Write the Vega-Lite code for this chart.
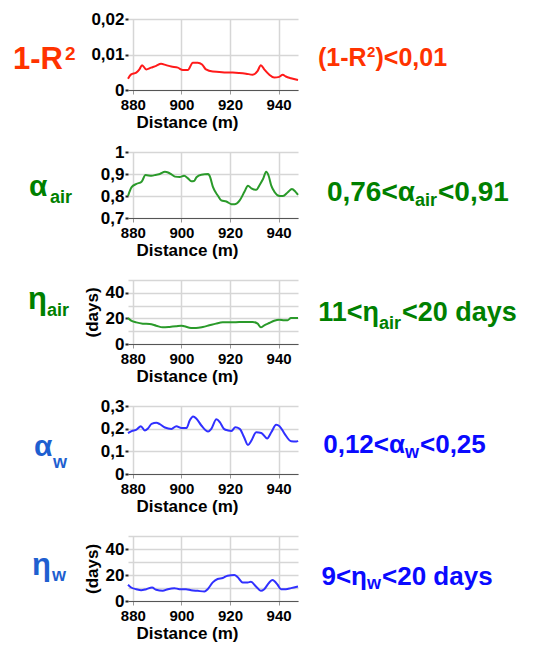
{
"$schema": "https://vega.github.io/schema/vega-lite/v6.json",
"padding": {"left": 13, "top": 10, "right": 5, "bottom": 3},
"background": "white",
"spacing": 62,
"bounds": "flush",
"datasets": {
"r2": [{"d":878,"v":0.0032},{"d":879.3,"v":0.0044},{"d":881.4,"v":0.0049},{"d":882.7,"v":0.0058},{"d":883.8,"v":0.007},{"d":885.5,"v":0.0058},{"d":887.5,"v":0.0063},{"d":889.6,"v":0.0068},{"d":891.6,"v":0.0074},{"d":893.7,"v":0.007},{"d":895.8,"v":0.0066},{"d":898.5,"v":0.0063},{"d":900.6,"v":0.0056},{"d":902.6,"v":0.0056},{"d":904.7,"v":0.0077},{"d":906.7,"v":0.0077},{"d":908.5,"v":0.0072},{"d":910.1,"v":0.0058},{"d":912.9,"v":0.0052},{"d":915.6,"v":0.0051},{"d":918.4,"v":0.0049},{"d":921.1,"v":0.0049},{"d":923.8,"v":0.0048},{"d":926.6,"v":0.0046},{"d":929.3,"v":0.0043},{"d":931.4,"v":0.0054},{"d":932.7,"v":0.007},{"d":934.1,"v":0.0058},{"d":936.2,"v":0.0043},{"d":938.2,"v":0.0035},{"d":940.3,"v":0.0037},{"d":941.7,"v":0.0043},{"d":943.0,"v":0.0038},{"d":945.1,"v":0.0033},{"d":948,"v":0.0028}],
"aair": [{"d":878,"v":0.80},{"d":879.5,"v":0.84},{"d":881.5,"v":0.855},{"d":883.6,"v":0.865},{"d":885.2,"v":0.895},{"d":887.7,"v":0.892},{"d":889.7,"v":0.897},{"d":891.1,"v":0.90},{"d":893.2,"v":0.91},{"d":894.5,"v":0.907},{"d":895.9,"v":0.898},{"d":897.3,"v":0.888},{"d":899.3,"v":0.886},{"d":901.1,"v":0.892},{"d":902.7,"v":0.88},{"d":904.1,"v":0.867},{"d":905.2,"v":0.868},{"d":906.2,"v":0.885},{"d":908.2,"v":0.897},{"d":911.0,"v":0.90},{"d":911.6,"v":0.892},{"d":913.0,"v":0.84},{"d":915.1,"v":0.80},{"d":916.4,"v":0.78},{"d":918.5,"v":0.775},{"d":920.6,"v":0.763},{"d":921.9,"v":0.762},{"d":924.0,"v":0.78},{"d":926.0,"v":0.82},{"d":927.4,"v":0.847},{"d":928.8,"v":0.835},{"d":930.8,"v":0.828},{"d":932.2,"v":0.85},{"d":933.6,"v":0.877},{"d":934.9,"v":0.91},{"d":935.9,"v":0.892},{"d":937.0,"v":0.847},{"d":938.4,"v":0.817},{"d":940.4,"v":0.80},{"d":941.8,"v":0.80},{"d":943.8,"v":0.817},{"d":945.5,"v":0.832},{"d":946.9,"v":0.82},{"d":948,"v":0.805}],
"nair": [{"d":878,"v":20.3},{"d":879.3,"v":18.2},{"d":881.4,"v":16.9},{"d":884.1,"v":15.9},{"d":886.9,"v":15.6},{"d":889.6,"v":14.3},{"d":892.3,"v":13},{"d":895.1,"v":13.3},{"d":897.8,"v":13.8},{"d":899.9,"v":14.3},{"d":901.2,"v":13.8},{"d":904.0,"v":12.5},{"d":906.0,"v":12.5},{"d":908.8,"v":13.3},{"d":911.5,"v":14.6},{"d":914.2,"v":15.9},{"d":917.0,"v":16.9},{"d":921.1,"v":16.9},{"d":923.8,"v":17.2},{"d":926.6,"v":17.2},{"d":929.3,"v":17.2},{"d":931.4,"v":15.9},{"d":932.7,"v":13},{"d":934.1,"v":14.6},{"d":936.2,"v":16.4},{"d":938.2,"v":18.2},{"d":940.3,"v":19},{"d":942.3,"v":18.5},{"d":943.7,"v":18.5},{"d":945.1,"v":20.3},{"d":948,"v":20.3}],
"aw": [{"d":878,"v":0.18},{"d":879.5,"v":0.189},{"d":881.5,"v":0.196},{"d":883.3,"v":0.211},{"d":884.9,"v":0.192},{"d":886.3,"v":0.202},{"d":887.7,"v":0.221},{"d":889.7,"v":0.226},{"d":891.1,"v":0.22},{"d":893.2,"v":0.205},{"d":895.9,"v":0.199},{"d":897.9,"v":0.211},{"d":900.0,"v":0.203},{"d":902.1,"v":0.203},{"d":903.4,"v":0.236},{"d":904.8,"v":0.254},{"d":906.2,"v":0.244},{"d":908.2,"v":0.214},{"d":911.0,"v":0.187},{"d":912.3,"v":0.199},{"d":914.4,"v":0.241},{"d":915.8,"v":0.229},{"d":917.5,"v":0.199},{"d":919.2,"v":0.192},{"d":920.6,"v":0.19},{"d":922.2,"v":0.206},{"d":924.0,"v":0.199},{"d":925.8,"v":0.162},{"d":927.4,"v":0.128},{"d":928.8,"v":0.147},{"d":930.8,"v":0.184},{"d":932.9,"v":0.181},{"d":935.3,"v":0.157},{"d":937.0,"v":0.184},{"d":939.0,"v":0.217},{"d":940.4,"v":0.211},{"d":942.5,"v":0.177},{"d":945.2,"v":0.144},{"d":947.3,"v":0.143},{"d":948,"v":0.147}],
"nw": [{"d":878,"v":12.5},{"d":879.3,"v":10.4},{"d":881.4,"v":9.1},{"d":883.4,"v":8.3},{"d":885.5,"v":9.1},{"d":887.9,"v":10.4},{"d":889.6,"v":8.6},{"d":892.3,"v":7.8},{"d":894.4,"v":9.1},{"d":897.1,"v":9.9},{"d":899.2,"v":9.1},{"d":901.9,"v":9.1},{"d":904.0,"v":8.3},{"d":906.7,"v":7.8},{"d":909.5,"v":7.3},{"d":910.8,"v":9.1},{"d":912.9,"v":14.3},{"d":914.9,"v":16.9},{"d":917.0,"v":17.7},{"d":919.0,"v":19.5},{"d":921.8,"v":20},{"d":923.2,"v":18.2},{"d":925.2,"v":14.3},{"d":927.3,"v":14.3},{"d":928.6,"v":14.8},{"d":930.7,"v":11.2},{"d":932.7,"v":7.8},{"d":934.1,"v":9.1},{"d":936.2,"v":14.3},{"d":937.5,"v":16.1},{"d":939.6,"v":12.5},{"d":941.0,"v":9.1},{"d":943.0,"v":9.1},{"d":945.1,"v":9.9},{"d":948,"v":11.2}]
},
"vconcat": [
{
"width": 170, "height": 71,
"layer": [
{"data": {"name": "r2"}, "mark": {"type": "line", "color": "#ff1a1a", "strokeWidth": 2, "interpolate": "monotone"},
 "encoding": {
  "x": {"field": "d", "type": "quantitative", "scale": {"domain": [878, 948], "nice": false, "zero": false}, "axis": {"values": [880, 900, 920, 940], "title": "Distance (m)"}},
  "y": {"field": "v", "type": "quantitative", "scale": {"domain": [0, 0.02], "nice": false}, "axis": {"values": [0, 0.01, 0.02], "title": null, "labelExpr": "replace(format(datum.value, '.2~f'), '.', ',')"}}
 }},
{"data": {"values": [{"t": "1-R"}]}, "mark": {"type": "text", "align": "left", "baseline": "alphabetic", "fontSize": 31, "dx": -200, "dy": 14.5, "color": "#ff3300"}, "encoding": {"text": {"field": "t"}}},
{"data": {"values": [{"t": "2"}]}, "mark": {"type": "text", "align": "left", "baseline": "alphabetic", "fontSize": 19, "dx": -148, "dy": 5, "color": "#ff3300"}, "encoding": {"text": {"field": "t"}}},
{"data": {"values": [{"t": "(1-R"}]}, "mark": {"type": "text", "align": "left", "baseline": "alphabetic", "fontSize": 25, "dx": 105, "dy": 11.5, "color": "#ff3300"}, "encoding": {"text": {"field": "t"}}},
{"data": {"values": [{"t": "2"}]}, "mark": {"type": "text", "align": "left", "baseline": "alphabetic", "fontSize": 15, "dx": 154, "dy": 2.5, "color": "#ff3300"}, "encoding": {"text": {"field": "t"}}},
{"data": {"values": [{"t": ")<0,01"}]}, "mark": {"type": "text", "align": "left", "baseline": "alphabetic", "fontSize": 25, "dx": 162.5, "dy": 11.5, "color": "#ff3300"}, "encoding": {"text": {"field": "t"}}}
]
},
{
"width": 170, "height": 66,
"layer": [
{"data": {"name": "aair"}, "mark": {"type": "line", "color": "#2a9a2a", "strokeWidth": 2, "interpolate": "monotone"},
 "encoding": {
  "x": {"field": "d", "type": "quantitative", "scale": {"domain": [878, 948], "nice": false, "zero": false}, "axis": {"values": [880, 900, 920, 940], "title": "Distance (m)"}},
  "y": {"field": "v", "type": "quantitative", "scale": {"domain": [0.7, 1], "nice": false, "zero": false}, "axis": {"values": [0.7, 0.8, 0.9, 1], "title": null, "labelExpr": "replace(format(datum.value, '.1~f'), '.', ',')"}}
 }},
{"data": {"values": [{"t": "α"}]}, "mark": {"type": "text", "align": "left", "baseline": "alphabetic", "fontSize": 30, "dx": -184, "dy": 11, "color": "#008000"}, "encoding": {"text": {"field": "t"}}},
{"data": {"values": [{"t": "air"}]}, "mark": {"type": "text", "align": "left", "baseline": "alphabetic", "fontSize": 18, "dx": -163, "dy": 18, "color": "#008000"}, "encoding": {"text": {"field": "t"}}},
{"data": {"values": [{"t": "0,76<α"}]}, "mark": {"type": "text", "align": "right", "baseline": "alphabetic", "fontSize": 28, "dx": 202, "dy": 16, "color": "#008000"}, "encoding": {"text": {"field": "t"}}},
{"data": {"values": [{"t": "air"}]}, "mark": {"type": "text", "align": "left", "baseline": "alphabetic", "fontSize": 18, "dx": 202, "dy": 21, "color": "#008000"}, "encoding": {"text": {"field": "t"}}},
{"data": {"values": [{"t": "<0,91"}]}, "mark": {"type": "text", "align": "left", "baseline": "alphabetic", "fontSize": 28, "dx": 225, "dy": 16, "color": "#008000"}, "encoding": {"text": {"field": "t"}}}
]
},
{
"width": 170, "height": 64,
"layer": [
{"data": {"name": "nair"}, "mark": {"type": "line", "color": "#2a9a2a", "strokeWidth": 2, "interpolate": "monotone"},
 "encoding": {
  "x": {"field": "d", "type": "quantitative", "scale": {"domain": [878, 948], "nice": false, "zero": false}, "axis": {"values": [880, 900, 920, 940], "title": "Distance (m)"}},
  "y": {"field": "v", "type": "quantitative", "scale": {"domain": [0, 50], "nice": false}, "axis": {"values": [0, 10, 20, 30, 40, 50], "title": "(days)", "titlePadding": 4, "labelExpr": "datum.value % 20 === 0 ? datum.label : ''", "tickOpacity": {"condition": {"test": "datum.value % 20 !== 0", "value": 0}, "value": 1}}}
 }},
{"data": {"values": [{"t": "η"}]}, "mark": {"type": "text", "align": "left", "baseline": "alphabetic", "fontSize": 31, "dx": -185, "dy": -3, "color": "#008000"}, "encoding": {"text": {"field": "t"}}},
{"data": {"values": [{"t": "air"}]}, "mark": {"type": "text", "align": "left", "baseline": "alphabetic", "fontSize": 18, "dx": -166, "dy": 4, "color": "#008000"}, "encoding": {"text": {"field": "t"}}},
{"data": {"values": [{"t": "11<η"}]}, "mark": {"type": "text", "align": "right", "baseline": "alphabetic", "fontSize": 27, "dx": 166, "dy": 9, "color": "#008000"}, "encoding": {"text": {"field": "t"}}},
{"data": {"values": [{"t": "air"}]}, "mark": {"type": "text", "align": "left", "baseline": "alphabetic", "fontSize": 18, "dx": 166, "dy": 17, "color": "#008000"}, "encoding": {"text": {"field": "t"}}},
{"data": {"values": [{"t": "<20 days"}]}, "mark": {"type": "text", "align": "left", "baseline": "alphabetic", "fontSize": 27, "dx": 189, "dy": 9, "color": "#008000"}, "encoding": {"text": {"field": "t"}}}
]
},
{
"width": 170, "height": 68,
"layer": [
{"data": {"name": "aw"}, "mark": {"type": "line", "color": "#3030ff", "strokeWidth": 2, "interpolate": "monotone"},
 "encoding": {
  "x": {"field": "d", "type": "quantitative", "scale": {"domain": [878, 948], "nice": false, "zero": false}, "axis": {"values": [880, 900, 920, 940], "title": "Distance (m)"}},
  "y": {"field": "v", "type": "quantitative", "scale": {"domain": [0, 0.3], "nice": false}, "axis": {"values": [0, 0.1, 0.2, 0.3], "title": null, "labelExpr": "replace(format(datum.value, '.1~f'), '.', ',')"}}
 }},
{"data": {"values": [{"t": "α"}]}, "mark": {"type": "text", "align": "left", "baseline": "alphabetic", "fontSize": 30, "dx": -179, "dy": 16, "color": "#1f5fd0"}, "encoding": {"text": {"field": "t"}}},
{"data": {"values": [{"t": "w"}]}, "mark": {"type": "text", "align": "left", "baseline": "alphabetic", "fontSize": 18, "dx": -160, "dy": 28, "color": "#1f5fd0"}, "encoding": {"text": {"field": "t"}}},
{"data": {"values": [{"t": "0,12<α"}]}, "mark": {"type": "text", "align": "right", "baseline": "alphabetic", "fontSize": 26, "dx": 192, "dy": 13, "color": "#0a0aff"}, "encoding": {"text": {"field": "t"}}},
{"data": {"values": [{"t": "w"}]}, "mark": {"type": "text", "align": "left", "baseline": "alphabetic", "fontSize": 18, "dx": 192, "dy": 18, "color": "#0a0aff"}, "encoding": {"text": {"field": "t"}}},
{"data": {"values": [{"t": "<0,25"}]}, "mark": {"type": "text", "align": "left", "baseline": "alphabetic", "fontSize": 26, "dx": 207, "dy": 13, "color": "#0a0aff"}, "encoding": {"text": {"field": "t"}}}
]
},
{
"width": 170, "height": 65,
"layer": [
{"data": {"name": "nw"}, "mark": {"type": "line", "color": "#3030ff", "strokeWidth": 2, "interpolate": "monotone"},
 "encoding": {
  "x": {"field": "d", "type": "quantitative", "scale": {"domain": [878, 948], "nice": false, "zero": false}, "axis": {"values": [880, 900, 920, 940], "title": "Distance (m)"}},
  "y": {"field": "v", "type": "quantitative", "scale": {"domain": [0, 50], "nice": false}, "axis": {"values": [0, 10, 20, 30, 40, 50], "title": "(days)", "titlePadding": 4, "labelExpr": "datum.value % 20 === 0 ? datum.label : ''", "tickOpacity": {"condition": {"test": "datum.value % 20 !== 0", "value": 0}, "value": 1}}}
 }},
{"data": {"values": [{"t": "η"}]}, "mark": {"type": "text", "align": "left", "baseline": "alphabetic", "fontSize": 31, "dx": -181, "dy": 6, "color": "#1f5fd0"}, "encoding": {"text": {"field": "t"}}},
{"data": {"values": [{"t": "w"}]}, "mark": {"type": "text", "align": "left", "baseline": "alphabetic", "fontSize": 18, "dx": -161, "dy": 12.5, "color": "#1f5fd0"}, "encoding": {"text": {"field": "t"}}},
{"data": {"values": [{"t": "9<η"}]}, "mark": {"type": "text", "align": "right", "baseline": "alphabetic", "fontSize": 26, "dx": 154, "dy": 16, "color": "#0a0aff"}, "encoding": {"text": {"field": "t"}}},
{"data": {"values": [{"t": "w"}]}, "mark": {"type": "text", "align": "left", "baseline": "alphabetic", "fontSize": 18, "dx": 154, "dy": 20.5, "color": "#0a0aff"}, "encoding": {"text": {"field": "t"}}},
{"data": {"values": [{"t": "<20 days"}]}, "mark": {"type": "text", "align": "left", "baseline": "alphabetic", "fontSize": 26, "dx": 169, "dy": 16, "color": "#0a0aff"}, "encoding": {"text": {"field": "t"}}}
]
}
],
"config": {
 "font": "Liberation Sans",
 "view": {"stroke": null},
 "axis": {"labelFont": "Liberation Sans", "labelFontWeight": "bold", "labelColor": "#000", "titleFont": "Liberation Sans", "titleFontWeight": "bold", "titleColor": "#000", "gridColor": "#d6d6d6", "gridWidth": 1.5, "labelOverlap": false},
 "axisX": {"labelFontSize": 15, "titleFontSize": 17, "labelFlush": false, "labelPadding": 3, "tickSize": 4, "tickColor": "#999", "domainColor": "#555", "titlePadding": 2, "titleX": 59},
 "axisY": {"labelFontSize": 17, "titleFontSize": 17, "domain": false, "tickSize": 3, "tickWidth": 2, "tickColor": "#222", "labelPadding": 1},
 "text": {"fontWeight": "bold", "font": "Liberation Sans"}
}
}
